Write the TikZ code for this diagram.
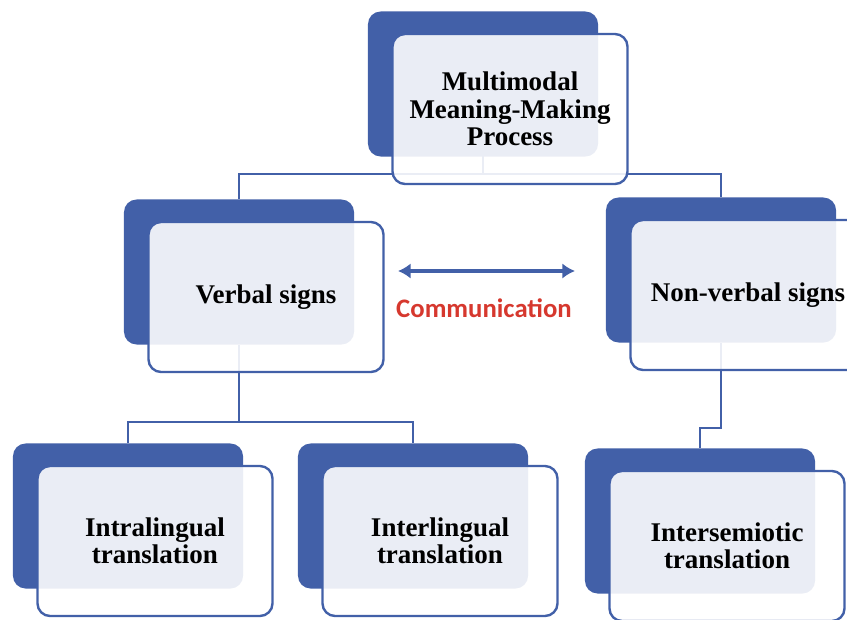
\documentclass[tikz,border=0pt]{standalone}
\usepackage{fontspec}
\setmainfont{Liberation Serif}
\newfontfamily\labelfont{Carlito}
\usetikzlibrary{arrows.meta,positioning,backgrounds}
\definecolor{signblue}{RGB}{66,96,168}
\definecolor{commred}{RGB}{214,56,46}

\begin{document}
\begin{tikzpicture}[
    x=0.025cm, y=-0.025cm,
    back/.style={rectangle, fill=signblue, rounded corners=9pt, minimum width=5.75cm, minimum height=3.625cm},
    front/.style={rectangle, draw=signblue, line width=1.7pt, fill=white, fill opacity=0.89, text opacity=1, rounded corners=9pt, minimum width=5.875cm, minimum height=3.75cm, align=center, font=\bfseries\fontsize{19.2}{19.5}\selectfont},
    conn/.style={draw=signblue, line width=1.7pt},
    commarrow/.style={{Latex[length=9pt,width=11pt]}-{Latex[length=9pt,width=11pt]}, draw=signblue, line width=2.4pt}
]
    \useasboundingbox (0,0) rectangle (847,619);

    % top level
    \node[back] (mmpB) at (483,84) {};
    \node[front] (mmp) at ([shift={(27,25)}]mmpB) {Multimodal\\Meaning-Making\\Process};

    % signs
    \node[back] (verbB) at (239,272) {};
    \node[front] (verb) at ([shift={(27,25)}]verbB) {Verbal signs};
    \node[back] (nonvB) at (721,270) {};
    \node[front] (nonv) at ([shift={(27,25)}]nonvB) {Non-verbal signs};

    % translations
    \node[back] (intraB) at (128,516) {};
    \node[front] (intra) at ([shift={(27,25)}]intraB) {Intralingual\\translation};
    \node[back] (interB) at (413,516) {};
    \node[front] (inter) at ([shift={(27,25)}]interB) {Interlingual\\translation};
    \node[back] (intsB) at (700,521) {};
    \node[front] (ints) at ([shift={(27,25)}]intsB) {Intersemiotic\\translation};

    % communication
    \node[font=\labelfont\bfseries\fontsize{19}{22}\selectfont, text=commred] (comm) at (484,308) {Communication};
    \coordinate (commL) at (398,271);
    \coordinate (commR) at (575,271);
    \draw[commarrow] (commL) -- (commR);

    \begin{pgfonlayer}{background}
        \draw[conn] (mmpB.center) -- ++(0,91);
        \draw[conn] (verbB.north) -- ++(0,-25) -| (nonvB.north);
        \draw[conn] (verbB.south) -- ++(0,78);
        \draw[conn] (intraB.north) -- ++(0,-21) -| (interB.north);
        \draw[conn] (nonvB.south) -- ++(0,85) -| (intsB.north);
    \end{pgfonlayer}
\end{tikzpicture}
\end{document}
